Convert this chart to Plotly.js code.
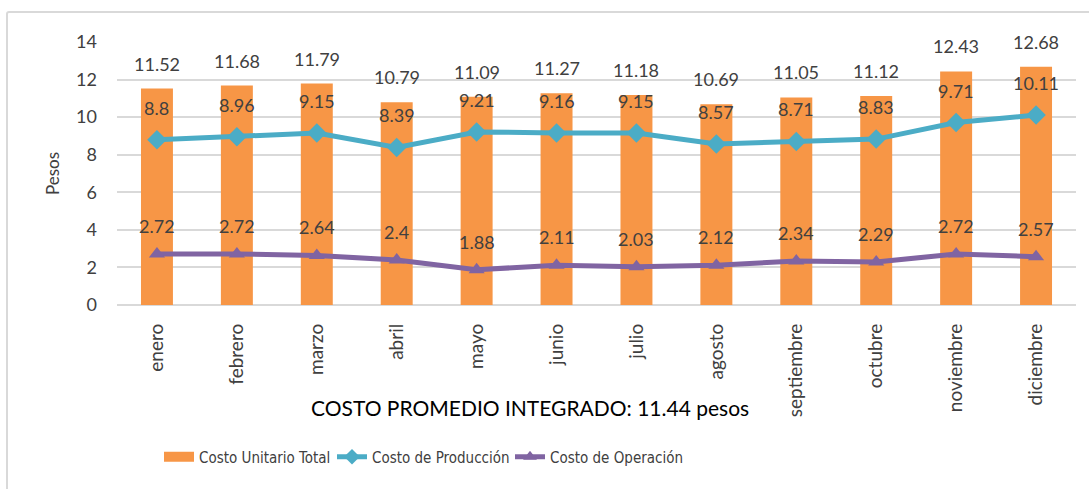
<!DOCTYPE html>
<html>
<head>
<meta charset="utf-8">
<script src="https://cdn.plot.ly/plotly-3.0.1.min.js"></script>
<style>
html,body{margin:0;padding:0;background:#fff;}
#wrap{position:relative;width:1089px;height:489px;overflow:hidden;}
#chart{width:1089px;height:489px;}
#frame{position:absolute;left:6px;top:11px;width:1100px;height:500px;border:2px solid #d9d9d9;border-radius:3px;pointer-events:none;}
</style>
</head>
<body>
<div id="wrap"><div id="chart"></div><div id="frame"></div></div>
<script>
const months = ["enero","febrero","marzo","abril","mayo","junio","julio","agosto","septiembre","octubre","noviembre","diciembre"];
const costoUnitarioTotal = [11.52,11.68,11.79,10.79,11.09,11.27,11.18,10.69,11.05,11.12,12.43,12.68];
const costoProduccion = [8.8,8.96,9.15,8.39,9.21,9.16,9.15,8.57,8.71,8.83,9.71,10.11];
const costoOperacion = [2.72,2.72,2.64,2.4,1.88,2.11,2.03,2.12,2.34,2.29,2.72,2.57];
const yTicks = [0,2,4,6,8,10,12,14];
const noteText = "COSTO PROMEDIO INTEGRADO: 11.44 pesos";

const FONT = "Lato, 'Open Sans', sans-serif";
const NARROW = "'Liberation Sans Narrow', 'DejaVu Sans Condensed', sans-serif";
const labelFont = {family: FONT, size: 18, color: "#404040"};

const traces = [
  {type:"bar", name:"Costo Unitario Total", x:months, y:costoUnitarioTotal,
   marker:{color:"#F79646"}, showlegend:false},
  {type:"scatter", mode:"lines", name:"Costo Unitario Total", x:[null], y:[null],
   line:{color:"#F79646", width:10}, legend:"legend"},
  {type:"scatter", mode:"lines+markers", name:"Costo de Producción", x:months, y:costoProduccion,
   line:{color:"#4BACC6", width:5}, marker:{symbol:"diamond", size:15, color:"#4BACC6"}, legend:"legend2"},
  {type:"scatter", mode:"lines+markers", name:"Costo de Operación", x:months, y:costoOperacion,
   line:{color:"#8064A2", width:5}, marker:{symbol:"triangle-up", size:14, color:"#8064A2"}, legend:"legend3"}
];

const annotations = [];
months.forEach((m,i)=>{
  annotations.push({x:m, y:costoUnitarioTotal[i], xref:"x", yref:"y", text:String(costoUnitarioTotal[i]),
    showarrow:false, yanchor:"bottom", yshift:12, font:labelFont});
  annotations.push({x:m, y:costoProduccion[i], xref:"x", yref:"y", text:String(costoProduccion[i]),
    showarrow:false, yanchor:"bottom", yshift:19, font:labelFont});
  annotations.push({x:m, y:costoOperacion[i], xref:"x", yref:"y", text:String(costoOperacion[i]),
    showarrow:false, yanchor:"bottom", yshift:15, font:labelFont});
});
annotations.push({x:0.4307, y:-0.39, xref:"paper", yref:"paper", text:noteText, showarrow:false,
  xanchor:"center", yanchor:"middle", font:{family:FONT, size:21, color:"#000"}});

function legendCfg(xpx, sizing){
  return {orientation:"h", xanchor:"left", yanchor:"middle", y:-0.578, x:(xpx-117)/959,
    font:{family:NARROW, size:15, color:"#404040"},
    bgcolor:"rgba(0,0,0,0)", itemwidth:30, itemsizing:sizing};
}

const layout = {
  width:1089, height:489,
  margin:{l:117, r:13, t:42, b:184},
  paper_bgcolor:"#fff", plot_bgcolor:"#fff",
  font:{family:FONT, size:17, color:"#404040"},
  bargap:0.6,
  showlegend:true,
  legend:legendCfg(159, "trace"),
  legend2:legendCfg(332, "constant"),
  legend3:legendCfg(510, "constant"),
  xaxis:{type:"category", range:[-0.5, 11.5], autorange:false, tickangle:-90, showgrid:false, zeroline:false, showline:false,
    ticks:"", ticklabelstandoff:14, tickfont:{family:FONT, size:19, color:"#404040"}},
  yaxis:{range:[0,14], tickvals:yTicks, showgrid:true, gridcolor:"#d9d9d9", gridwidth:2,
    zeroline:true, zerolinecolor:"#d9d9d9", zerolinewidth:2, showline:false, ticks:"",
    ticklabelstandoff:19, tickfont:{family:FONT, size:18, color:"#404040"},
    title:{text:"Pesos", standoff:12, font:{family:FONT, size:17, color:"#404040"}}},
  annotations:annotations
};

Plotly.newPlot("chart", traces, layout, {displayModeBar:false, staticPlot:true});
</script>
</body>
</html>
